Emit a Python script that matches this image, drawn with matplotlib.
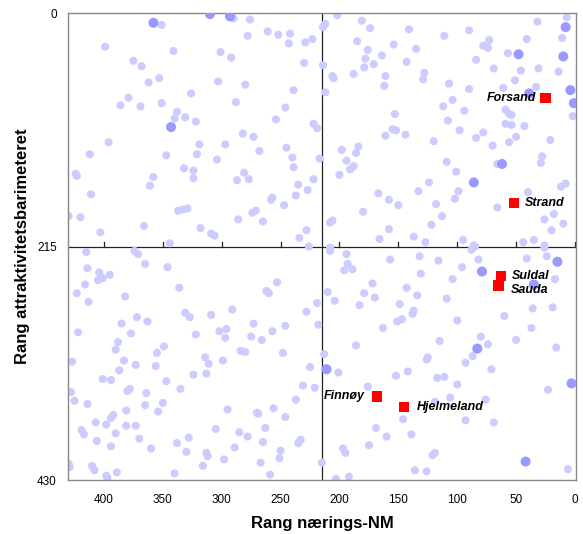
import matplotlib
matplotlib.use('Agg')
import matplotlib.pyplot as plt
import numpy as np

plt.rcParams['font.family'] = ['Liberation Sans', 'DejaVu Sans']

# rang naerings-NM (x), rang attraktivitetsbarometeret (y), alle kommuner
light_x = [351, 399, 341, 375, 368, 362, 353, 326, 379, 386, 369, 351, 338, 340, 331, 322, 396, 412, 347, 424,
           423, 332, 324, 324, 358, 361, 411, 430, 420, 337, 333, 329, 366, 403, 344,
           290, 276, 278, 261, 252, 242, 243, 229, 223, 214, 301, 292, 230, 214, 303, 280, 239, 288, 246, 254,
           222, 219, 282, 273, 297, 319, 321, 268, 245, 240, 217, 304, 239, 281, 287, 277, 222, 235, 227, 237,
           257, 258, 247, 274, 271, 286, 265, 318, 309, 306, 228, 234, 226,
           202, 212, 181, 174, 141, 111, 185, 154, 176, 135, 164, 178, 171, 143, 179, 188, 205, 206, 161, 128,
           129, 162, 212, 107, 104, 112, 108, 153, 155, 152, 161, 144, 120, 184, 186, 198, 194, 188, 191, 200,
           109, 124, 133, 167, 158, 150, 118, 102, 180, 113, 208, 206, 122, 158, 166, 137, 127, 208,
           7, 32, 90, 73, 78, 74, 41, 11, 57, 84, 69, 46, 31, 14, 51, 90, 61, 33, 94, 59, 54, 56, 2, 59, 54, 43,
           98, 78, 84, 50, 21, 70, 56, 28, 29, 66, 101, 99, 40, 12, 8, 66, 18, 26, 10, 20, 95, 86, 44, 35, 26,
           415, 374, 371, 365, 346, 414, 404, 395, 401, 405, 416, 423, 413, 382, 336, 331, 327, 372, 363, 385,
           422, 377, 322, 388, 390, 349, 355, 427, 383, 373, 387, 356, 324, 401, 394, 347, 335, 428, 425, 380,
           378, 364, 414, 365, 350, 354, 381, 392, 394, 407, 398, 381, 373, 419, 417, 390, 406, 394, 370, 360,
           338, 330, 328, 430, 429, 410, 408, 398, 397, 389, 340,
           253, 262, 260, 219, 228, 291, 309, 273, 246, 257, 218, 302, 296, 297, 275, 266, 284, 280, 248, 314,
           311, 299, 313, 225, 231, 221, 237, 295, 270, 269, 256, 246, 305, 285, 278, 263, 265, 235, 233, 289,
           313, 312, 298, 250, 251, 316, 267, 259, 215,
           208, 194, 193, 196, 189, 157, 132, 116, 131, 172, 210, 204, 179, 170, 183, 143, 134, 149, 109, 104,
           137, 138, 151, 147, 163, 186, 115, 213, 126, 125, 201, 152, 142, 117, 111, 176, 119, 106, 146, 169,
           160, 139, 175, 197, 195, 121, 119, 136, 126, 203, 192,
           88, 85, 82, 96, 41, 24, 26, 17, 100, 60, 36, 19, 37, 80, 74, 87, 93, 50, 16, 71, 100, 76, 23, 93, 69, 6]
light_y = [11, 31, 35, 44, 49, 64, 60, 74, 78, 85, 86, 83, 91, 97, 96, 100, 119, 130, 131, 148,
           150, 143, 145, 152, 151, 159, 167, 187, 188, 182, 181, 180, 196, 202, 212,
           5, 6, 21, 17, 20, 19, 28, 27, 24, 13, 36, 41, 46, 48, 63, 66, 71, 82, 87, 98,
           102, 106, 111, 114, 121, 121, 130, 127, 124, 133, 134, 135, 142, 147, 154, 153, 153, 158, 163, 168,
           170, 172, 177, 184, 182, 190, 192, 198, 203, 205, 200, 207, 215,
           2, 10, 7, 14, 15, 21, 26, 29, 34, 33, 39, 42, 47, 45, 50, 56, 60, 58, 58, 55,
           61, 67, 73, 65, 80, 86, 99, 93, 107, 108, 113, 112, 118, 123, 129, 126, 136, 141, 144, 149,
           137, 156, 164, 166, 172, 177, 176, 171, 183, 187, 193, 191, 195, 199, 208, 206, 211, 216,
           4, 8, 16, 25, 30, 32, 24, 23, 37, 43, 51, 53, 51, 54, 62, 70, 69, 68, 90, 89, 94, 93, 95, 102, 103, 104,
           108, 110, 115, 114, 117, 122, 119, 132, 138, 139, 146, 164, 165, 160, 157, 179, 185, 190, 194, 200, 209, 214, 211, 209, 214,
           220, 219, 222, 231, 234, 235, 239, 241, 244, 246, 250, 258, 266, 261, 253, 276, 280, 280, 284, 286,
           294, 295, 296, 303, 310, 307, 313, 321, 320, 324, 329, 325, 333, 337, 338, 339, 346, 349, 357, 348,
           346, 350, 360, 361, 359, 367, 366, 370, 373, 377, 379, 380, 380, 384, 388, 387, 394, 399, 392, 401,
           396, 404, 391, 415, 418, 417, 421, 426, 428, 423, 424,
           248, 256, 258, 267, 275, 273, 278, 286, 288, 293, 287, 293, 291, 299, 298, 301, 311, 312, 313, 317,
           323, 320, 332, 326, 343, 345, 356, 365, 368, 369, 364, 372, 383, 386, 390, 382, 395, 396, 393, 400,
           405, 408, 411, 403, 410, 417, 414, 425, 414,
           219, 222, 231, 237, 236, 227, 224, 228, 240, 249, 257, 265, 258, 262, 269, 253, 260, 268, 263, 245,
           274, 277, 284, 282, 290, 306, 302, 314, 319, 317, 331, 334, 330, 336, 335, 344, 358, 354, 374, 382,
           390, 388, 398, 401, 405, 407, 405, 421, 422, 429, 427,
           218, 215, 227, 234, 226, 224, 216, 245, 283, 279, 272, 271, 290, 298, 305, 316, 322, 301, 308, 328, 342, 356, 347, 375, 377, 420]

# kommuner med mørkere markering
dark_x = [358, 343, 310, 293, 8, 48, 10, 39, 4, 1, 62, 86, 211, 79, 15, 35, 83, 3, 42]
dark_y = [9, 105, 1, 3, 13, 38, 40, 74, 71, 83, 139, 156, 328, 238, 229, 250, 309, 341, 413]

# Ryfylke-kommunene
names = ['Forsand', 'Strand', 'Suldal', 'Sauda', 'Finnøy', 'Hjelmeland']
red_x = [25, 52, 63, 65, 168, 145]
red_y = [78, 175, 242, 251, 353, 363]
label_offset = [(-7, 0), (8, 0), (8, 0), (9, -3), (-9, 0), (9, 0)]

fig = plt.figure(figsize=(5.83, 5.34), dpi=100)
ax = fig.add_axes([0.1166, 0.1011, 0.8714, 0.8745])

ax.scatter(light_x, light_y, s=34, color='#ccccff', edgecolors='none', zorder=2)
ax.scatter(dark_x, dark_y, s=52, color='#9999ff', edgecolors='none', zorder=3)
ax.scatter(red_x, red_y, s=56, marker='s', color='#ff0000', edgecolors='none', zorder=4)

for name, x, y, off in zip(names, red_x, red_y, label_offset):
    ax.annotate(name, (x, y), xytext=off, textcoords='offset points',
                ha='right' if off[0] < 0 else 'left', va='center',
                fontsize=9, fontstyle='italic', fontweight='bold', zorder=5)

mid = 215
ax.axvline(mid, color='#222222', lw=0.9, zorder=1)
ax.axhline(mid, color='#222222', lw=0.9, zorder=1)

xt = np.arange(0, 401, 50)
for t in xt:
    ax.plot([t, t], [mid, mid - 4], color='#222222', lw=0.9, zorder=1)

ax.set_xlim(430.5, -0.8)
ax.set_ylim(430, 0)
ax.set_xticks(xt)
ax.set_yticks([0, 215, 430])
ax.tick_params(axis='both', length=0, labelsize=8.5)
ax.tick_params(axis='x', pad=10)
ax.tick_params(axis='y', pad=8)

for sp in ax.spines.values():
    sp.set_color('#888888')
    sp.set_linewidth(1.0)

ax.set_xlabel('Rang nærings-NM', fontsize=12, fontweight='bold')
ax.set_ylabel('Rang attraktivitetsbarimeteret', fontsize=12, fontweight='bold')
ax.xaxis.set_label_coords(0.5, -0.077)
ax.yaxis.set_label_coords(-0.074, 0.5)

fig.savefig('out.png', dpi=100)
